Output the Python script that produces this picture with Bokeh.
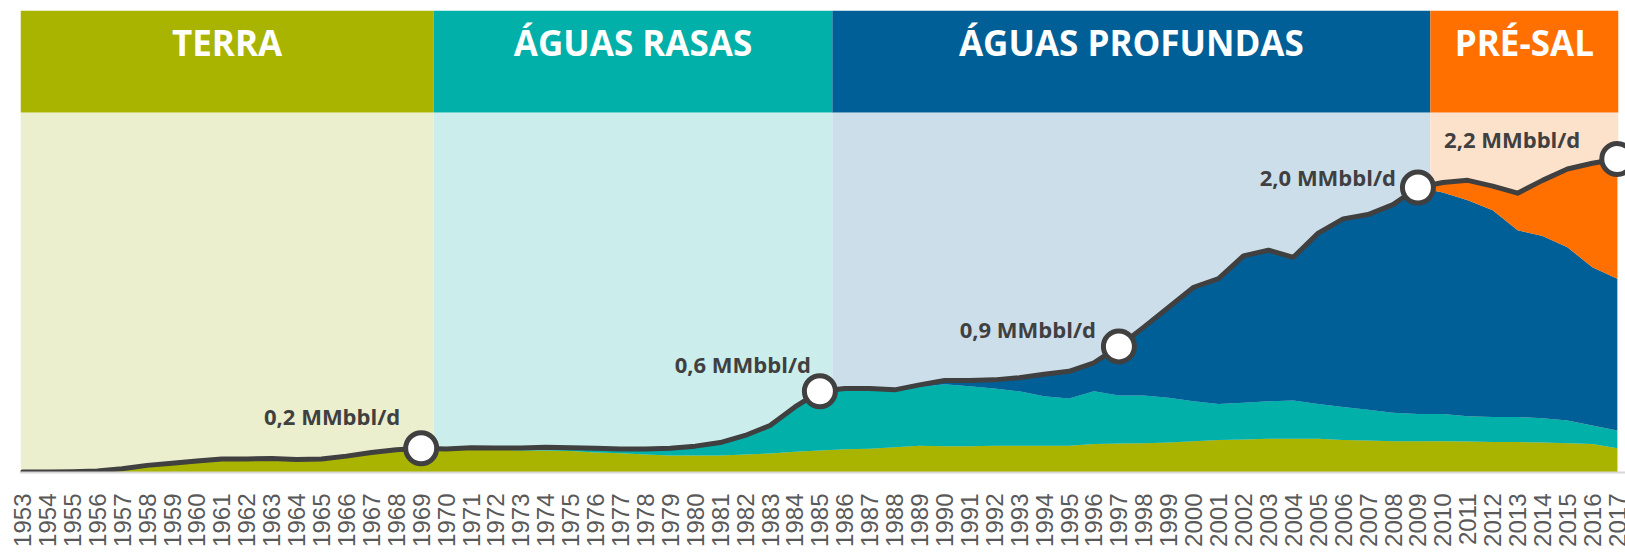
import numpy as np
from bokeh.plotting import figure
from bokeh.models import Range1d, FixedTicker, ColumnDataSource
from bokeh.core.properties import value
from bokeh.embed import file_html
from bokeh.resources import INLINE

years = list(range(1953, 2018))

terra = [0.003, 0.003, 0.006, 0.011, 0.027, 0.05, 0.065, 0.08, 0.095, 0.095,
         0.098, 0.092, 0.094, 0.115, 0.14, 0.16, 0.17,
         0.155, 0.163, 0.16, 0.155, 0.155, 0.15, 0.14, 0.135, 0.127, 0.12,
         0.12, 0.12, 0.127, 0.134, 0.145, 0.155, 0.163, 0.167, 0.177, 0.188,
         0.185, 0.185, 0.188, 0.188, 0.188, 0.188, 0.2, 0.203, 0.206, 0.21,
         0.22, 0.228, 0.232, 0.236, 0.236, 0.236, 0.228, 0.225, 0.22, 0.22,
         0.22, 0.218, 0.214, 0.214, 0.21, 0.206, 0.2, 0.17]

aguas_rasas = [0.0] * 17 + [
    0.01, 0.011, 0.012, 0.017, 0.022, 0.024, 0.03, 0.03, 0.038, 0.05,
    0.065, 0.09, 0.133, 0.196, 0.315, 0.41, 0.422, 0.418, 0.393, 0.412,
    0.435, 0.42, 0.402, 0.382, 0.347, 0.332, 0.37, 0.337, 0.334, 0.315,
    0.28, 0.252, 0.258, 0.264, 0.269, 0.244, 0.232, 0.215, 0.2, 0.19,
    0.19, 0.177, 0.176, 0.176, 0.17, 0.159, 0.13, 0.125]

aguas_profundas = [0.0] * 32 + [
    0.005, 0.005, 0.005, 0.01, 0.015, 0.025, 0.04, 0.06, 0.095, 0.155,
    0.19, 0.2, 0.345, 0.48, 0.635, 0.8, 0.88, 1.03, 1.06, 1.005,
    1.2, 1.32, 1.37, 1.46, 1.59, 1.555, 1.515, 1.45, 1.31, 1.28,
    1.215, 1.11, 1.065]

pre_sal = [0.0] * 56 + [0.0, 0.07, 0.14, 0.17, 0.26, 0.39, 0.55, 0.73, 0.84]

phases = ["TERRA", "ÁGUAS RASAS", "ÁGUAS PROFUNDAS", "PRÉ-SAL"]
phase_edges = [1952.92, 1969.5, 1985.5, 2009.5, 2017.04]

milestone_years = [1969, 1985, 1997, 2009, 2017]
milestone_labels = ["0,2 MMbbl/d", "0,6 MMbbl/d", "0,9 MMbbl/d", "2,0 MMbbl/d", "2,2 MMbbl/d"]

dark_colors = ["#A9B400", "#00B0A9", "#005F96", "#FF7000"]
light_colors = ["#EBEFCE", "#CBEDEB", "#CCDEEA", "#FDE2CB"]

Y_TOP = 3.242
HEADER_BOTTOM = 2.526

src = ColumnDataSource(dict(year=years, terra=terra, rasas=aguas_rasas,
                            prof=aguas_profundas, presal=pre_sal))
total = (np.array(terra) + np.array(aguas_rasas) + np.array(aguas_profundas)
         + np.array(pre_sal))

p = figure(width=1625, height=557, x_range=Range1d(phase_edges[0], 2017.33),
           y_range=Range1d(0, Y_TOP), output_backend="svg", toolbar_location=None,
           min_border_left=20, min_border_right=0, min_border_top=10,
           min_border_bottom=85, y_axis_location=None)
p.outline_line_color = None
p.grid.visible = False
p.background_fill_color = "white"

lefts = phase_edges[:-1]
rights = phase_edges[1:]
# light background bands
p.quad(left=lefts, right=rights, bottom=[0] * 4, top=[HEADER_BOTTOM] * 4,
       fill_color=light_colors, line_color=None)
# header bands
p.quad(left=lefts, right=rights, bottom=[HEADER_BOTTOM] * 4, top=[Y_TOP] * 4,
       fill_color=dark_colors, line_color=None)
centers = [(a + b) / 2 for a, b in zip(lefts, rights)]
p.text(x=centers, y=[3.018] * 4, text=phases, text_align="center",
       text_baseline="middle", text_color="white", text_font=value("Open Sans"),
       text_font_style="bold", text_font_size="35px")

# stacked areas
p.varea_stack(stackers=["terra", "rasas", "prof", "presal"], x="year",
              color=dark_colors, source=src)

# total line
p.line(years, total, line_color="#404040", line_width=5, line_join="round",
       line_cap="round")

idx = [years.index(y) for y in milestone_years]
my = [total[i] for i in idx]
p.scatter(milestone_years, my, size=31, fill_color="white", line_color="#404040",
          line_width=5)

x_off = [-21, -9, -23, -22, -37]
y_off = [-32, -27, -17, -10, -20]
p.text(x=milestone_years, y=my, text=milestone_labels, x_offset=x_off,
       y_offset=y_off, text_align="right", text_baseline="middle",
       text_color="#404040", text_font=value("Open Sans"), text_font_style="bold",
       text_font_size="22px")

ax = p.xaxis[0]
ax.ticker = FixedTicker(ticks=years)
ax.major_label_orientation = np.pi / 2
ax.major_tick_line_color = None
ax.minor_tick_line_color = None
ax.major_tick_in = 0
ax.major_tick_out = 0
ax.axis_line_color = "#D6D6D6"
ax.axis_line_width = 2
ax.major_label_standoff = 21
ax.major_label_text_font = "Liberation Sans"
ax.major_label_text_font_size = "24px"
ax.major_label_text_color = "#595959"

open("out.html", "w").write(file_html(p, INLINE))
